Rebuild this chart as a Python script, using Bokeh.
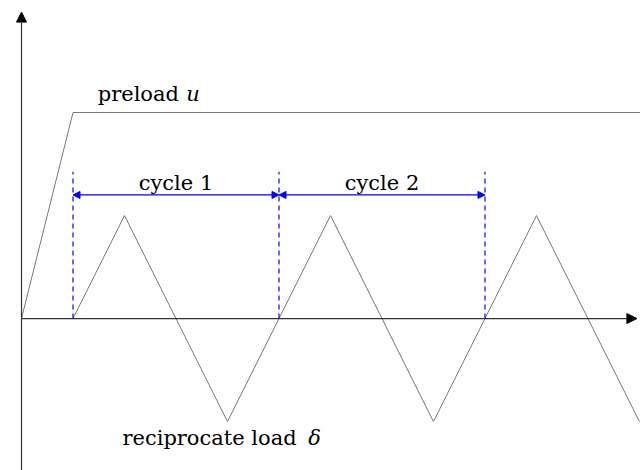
from bokeh.plotting import figure
from bokeh.models import Arrow, NormalHead, Range1d
from bokeh.core.properties import value
from bokeh.embed import file_html
from bokeh.resources import INLINE

# Load history: preload ramp then hold, reciprocating triangle load
preload_x = [0, 1, 12.2]
preload_y = [0, 4, 4]
wave_x = [1, 2, 4, 6, 8, 10, 12]
wave_y = [0, 2, -2, 2, -2, 2, -2]
cycle_bounds = [1, 5, 9]
cycle_labels = ["cycle 1", "cycle 2"]

FONT = value("DejaVu Serif")
FSIZE = "21px"

p = figure(width=640, height=470, output_backend="svg", toolbar_location=None,
           x_range=Range1d(-0.408, 12.02), y_range=Range1d(-2.95, 6.175),
           min_border=0, min_border_left=0, min_border_right=0,
           min_border_top=0, min_border_bottom=0)
p.axis.visible = False
p.grid.visible = False
p.outline_line_color = None
p.background_fill_color = "white"
p.border_fill_color = "white"

# axes with arrow heads
p.add_layout(Arrow(end=NormalHead(size=10, fill_color="black", line_color="black"),
                   x_start=0, y_start=0, x_end=11.95, y_end=0,
                   line_color="#333333", line_width=1.2))
p.add_layout(Arrow(end=NormalHead(size=10, fill_color="black", line_color="black"),
                   x_start=0, y_start=-3.0, x_end=0, y_end=5.95,
                   line_color="#333333", line_width=1.2))

# load curves
p.line(preload_x, preload_y, line_color="#777777", line_width=1)
p.line(wave_x, wave_y, line_color="#777777", line_width=1)

# cycle markers
for xb in cycle_bounds:
    p.line([xb, xb], [0, 2.85], line_color="blue", line_width=1.2, line_dash="5 4")

for i, lab in enumerate(cycle_labels):
    a, b = cycle_bounds[i], cycle_bounds[i + 1]
    p.add_layout(Arrow(start=NormalHead(size=7, fill_color="blue", line_color="blue"),
                       end=NormalHead(size=7, fill_color="blue", line_color="blue"),
                       x_start=a, y_start=2.4, x_end=b, y_end=2.4,
                       line_color="blue", line_width=1.2))
    p.text(x=[(a + b) / 2], y=[2.64], text=[lab], text_align="center",
           text_baseline="middle", text_font=FONT,
           text_font_size=FSIZE, text_color="black")

# labels
p.text(x=[1.48], y=[4.36], text=["preload"], text_align="left", text_baseline="middle",
       text_font=FONT, text_font_size=FSIZE, text_color="black")
p.text(x=[3.2], y=[4.36], text=["u"], text_align="left", text_baseline="middle",
       text_font=FONT, text_font_style="italic",
       text_font_size=FSIZE, text_color="black")
p.text(x=[1.96], y=[-2.31], text=["reciprocate load"], text_align="left", text_baseline="middle",
       text_font=FONT, text_font_size=FSIZE, text_color="black")
p.text(x=[5.57], y=[-2.31], text=["δ"], text_align="left", text_baseline="middle",
       text_font=FONT, text_font_style="italic",
       text_font_size=FSIZE, text_color="black")

open("out.html", "w").write(file_html(p, INLINE))
